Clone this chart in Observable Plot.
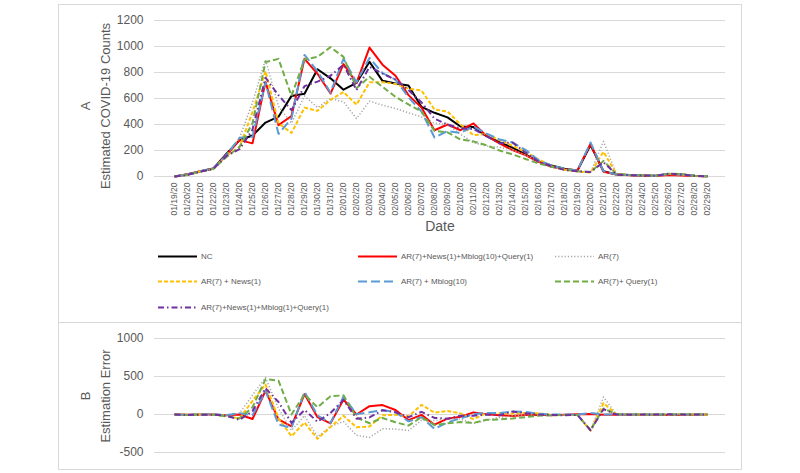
<!DOCTYPE html>
<html><head><meta charset="utf-8">
<script src="https://cdn.jsdelivr.net/npm/d3@7"></script>
<script src="https://cdn.jsdelivr.net/npm/@observablehq/plot@0.6"></script>
<style>
body{margin:0;background:#fff;}
#wrap{position:relative;width:800px;height:473px;font-family:"Liberation Sans",Arial,sans-serif;color:#595959;overflow:hidden;}
.panel{position:absolute;border:1px solid #d9d9d9;box-sizing:border-box;}
.ytitle{position:absolute;transform:translate(-50%,-50%) rotate(-90deg);white-space:nowrap;font-size:13px;color:#595959;text-align:center;line-height:20px;}
.leg{position:absolute;display:flex;align-items:center;font-family:"Liberation Sans",Arial,sans-serif;font-size:8px;color:#595959;white-space:nowrap;transform:translateY(-50%);}
.leg svg{margin-right:4px;}
</style></head><body>
<div id="wrap">
  <div class="panel" style="left:58px;top:4px;width:684px;height:319px;"></div>
  <div class="panel" style="left:58px;top:322px;width:684px;height:148px;"></div>
  <div class="ytitle" style="left:96px;top:106px;">A<br>Estimated COVID-19 Counts</div>
  <div class="ytitle" style="left:96px;top:396px;">B<br>Estimation Error</div>
</div>
<script>
const dates = ["01/19/20","01/20/20","01/21/20","01/22/20","01/23/20","01/24/20","01/25/20","01/26/20","01/27/20","01/28/20","01/29/20","01/30/20","01/31/20","02/01/20","02/02/20","02/03/20","02/04/20","02/05/20","02/06/20","02/07/20","02/08/20","02/09/20","02/10/20","02/11/20","02/12/20","02/13/20","02/14/20","02/15/20","02/16/20","02/17/20","02/18/20","02/19/20","02/20/20","02/21/20","02/22/20","02/23/20","02/24/20","02/25/20","02/26/20","02/27/20","02/28/20","02/29/20"];

const seriesNames = ["NC","AR(7)+News(1)+Mblog(10)+Query(1)","AR(7)","AR(7) + News(1)","AR(7) + Mblog(10)","AR(7)+ Query(1)","AR(7)+News(1)+Mblog(1)+Query(1)"];

// Panel A: estimated counts
const nc       = [0,18,40,62,175,280,315,415,460,620,636,825,755,668,720,882,736,715,700,535,490,455,385,380,310,265,222,170,115,85,60,45,242,40,15,12,8,5,20,15,5,2];
const arFull   = [0,15,40,62,165,280,255,728,395,465,905,790,638,865,720,992,860,775,626,530,356,400,356,408,312,254,203,164,113,74,56,49,250,36,15,10,6,3,12,8,3,1];
const ar7      = [0,15,40,62,170,295,570,900,540,410,620,530,600,575,446,579,549,523,490,459,410,400,325,260,235,225,205,165,115,80,55,40,30,270,15,12,8,5,18,15,5,2];
const arNews   = [0,15,40,60,160,225,495,810,410,335,530,505,590,650,552,725,725,712,675,662,515,500,400,318,328,280,236,190,131,80,52,38,30,190,18,12,8,5,20,15,5,2];
const arMblog  = [0,15,40,65,165,298,305,725,328,445,935,810,645,905,725,912,795,745,610,500,300,350,335,385,330,285,262,205,125,85,60,45,262,40,15,12,8,5,20,15,5,2];
const arQuery  = [0,12,38,60,150,228,410,880,905,620,900,920,995,920,680,767,690,613,554,500,350,340,285,270,240,200,170,135,100,75,55,40,35,120,18,12,8,5,22,18,5,2];
const arAll    = [0,12,38,60,160,210,360,760,625,510,695,730,775,860,665,843,792,745,665,570,445,400,370,365,310,255,262,185,115,80,50,40,35,110,15,10,8,5,22,15,5,2];

// Panel B: estimation errors
const errFull  = [0,-3,0,0,-10,0,-60,313,-65,-155,269,-35,-117,197,0,110,124,60,-74,-5,-134,-55,-29,28,2,-11,-19,-6,-2,-11,-4,4,8,-4,0,-2,-2,-2,-8,-7,-2,-1];
const errAr7   = [0,-3,0,0,-5,15,255,485,80,-210,-16,-295,-155,-93,-274,-303,-187,-192,-210,-76,-80,-55,-60,-120,-75,-40,-17,-5,0,-5,-5,-5,-212,230,0,0,0,0,-2,0,0,0];
const errNews  = [0,-3,0,-2,-15,-55,180,395,-50,-285,-106,-320,-165,-18,-168,-157,-11,-3,-25,127,25,45,15,-62,18,15,14,20,16,-5,-8,-7,-212,150,3,0,0,0,0,0,0,0];
const errMblog = [0,-3,0,3,-10,18,-10,310,-132,-175,299,-15,-110,237,5,30,59,30,-90,-35,-190,-105,-50,5,20,20,40,35,10,0,0,0,20,0,0,0,0,0,0,0,0,0];
const errQuery = [0,-6,-2,-2,-25,-52,95,465,445,0,264,95,240,252,-40,-115,-46,-102,-146,-35,-140,-115,-100,-110,-70,-65,-52,-35,-15,-10,-5,-5,-207,80,3,0,0,0,2,3,0,0];
const errAll   = [0,-6,-2,-2,-15,-70,45,345,165,-110,59,-95,20,192,-55,-39,56,30,-35,35,-45,-55,-15,-15,0,-10,40,15,0,-5,-10,-5,-207,70,0,-2,0,0,2,0,0,0];

const ticksA = [0,200,400,600,800,1000,1200];
const ticksB = [-500,0,500,1000];

const styles = {
  "NC": {stroke:"#000000", strokeWidth:2, strokeDasharray:null},
  "AR(7)+News(1)+Mblog(10)+Query(1)": {stroke:"#FF0000", strokeWidth:2, strokeDasharray:null},
  "AR(7)": {stroke:"#A5A5A5", strokeWidth:1.5, strokeDasharray:"1.2,2"},
  "AR(7) + News(1)": {stroke:"#FFC000", strokeWidth:2, strokeDasharray:"4,2"},
  "AR(7) + Mblog(10)": {stroke:"#5B9BD5", strokeWidth:2, strokeDasharray:"9,4"},
  "AR(7)+ Query(1)": {stroke:"#70AD47", strokeWidth:2, strokeDasharray:"6,3"},
  "AR(7)+News(1)+Mblog(1)+Query(1)": {stroke:"#7030A0", strokeWidth:2, strokeDasharray:"6,3,1.5,3"}
};

const seriesA = [nc, arFull, ar7, arNews, arMblog, arQuery, arAll];
const seriesB = [null, errFull, errAr7, errNews, errMblog, errQuery, errAll];

const toRows = vals => vals.map((v,i) => ({date: dates[i], value: v}));
const lineMarks = list => list.map((vals, k) => vals == null ? null :
  Plot.line(toRows(vals), {x:"date", y:"value", ...styles[seriesNames[k]], strokeLinejoin:"round", strokeLinecap:"butt"})).filter(Boolean);

const fmt = d => String(d);
const fontFamily = '"Liberation Sans", Arial, sans-serif';
const common = {
  width: 800, marginLeft: 154, marginRight: 75,
  x: {type:"point", domain: dates, range: [163, 717]},
  style: {color:"#595959", fontFamily, background:"transparent", overflow:"visible"}
};

const plotA = Plot.plot({
  ...common, height: 240, marginTop: 20, marginBottom: 64,
  y: {domain:[0,1200]},
  marks: [
    Plot.gridY(ticksA, {stroke:"#d9d9d9", strokeOpacity:1, strokeWidth:1}),
    Plot.axisY(ticksA, {tickSize:0, tickPadding:11, fontSize:12, label:null, tickFormat: fmt}),
    Plot.axisX({tickRotate:-90, tickSize:0, tickPadding:6, fontSize:8.5, label:null}),
    ...lineMarks(seriesA),
    Plot.text(["Date"], {text: d => d, frameAnchor:"bottom", dy:54, fontSize:14, fill:"#595959"})
  ]
});

const plotB = Plot.plot({
  ...common, height: 147, marginTop: 16, marginBottom: 17,
  y: {domain:[-500,1000]},
  marks: [
    Plot.gridY(ticksB, {stroke:"#d9d9d9", strokeOpacity:1, strokeWidth:1}),
    Plot.axisY(ticksB, {tickSize:0, tickPadding:11, fontSize:12, label:null, tickFormat: fmt}),
    Plot.axisX({ticks: [], label:null}),
    ...lineMarks(seriesB)
  ]
});

const wrap = document.getElementById("wrap");
plotA.style.position = "absolute"; plotA.style.left = "0px"; plotA.style.top = "0px";
plotB.style.position = "absolute"; plotB.style.left = "0px"; plotB.style.top = "322px";
wrap.appendChild(plotA);
wrap.appendChild(plotB);

// Legend
const legendPos = [[158,256],[358,256],[555,256],[158,281],[358,281],[555,281],[158,307]];
seriesNames.forEach((name, k) => {
  const s = styles[name];
  const div = document.createElement("div");
  div.className = "leg";
  div.style.left = legendPos[k][0] + "px";
  div.style.top = legendPos[k][1] + "px";
  const svgNS = "http://www.w3.org/2000/svg";
  const sw = document.createElementNS(svgNS, "svg");
  sw.setAttribute("width", 39); sw.setAttribute("height", 6);
  const ln = document.createElementNS(svgNS, "line");
  ln.setAttribute("x1", 0); ln.setAttribute("x2", 39); ln.setAttribute("y1", 3); ln.setAttribute("y2", 3);
  ln.setAttribute("stroke", s.stroke); ln.setAttribute("stroke-width", s.strokeWidth);
  if (s.strokeDasharray) ln.setAttribute("stroke-dasharray", s.strokeDasharray);
  sw.appendChild(ln);
  div.appendChild(sw);
  const span = document.createElement("span");
  span.textContent = name;
  div.appendChild(span);
  wrap.appendChild(div);
});
</script>
</body></html>
